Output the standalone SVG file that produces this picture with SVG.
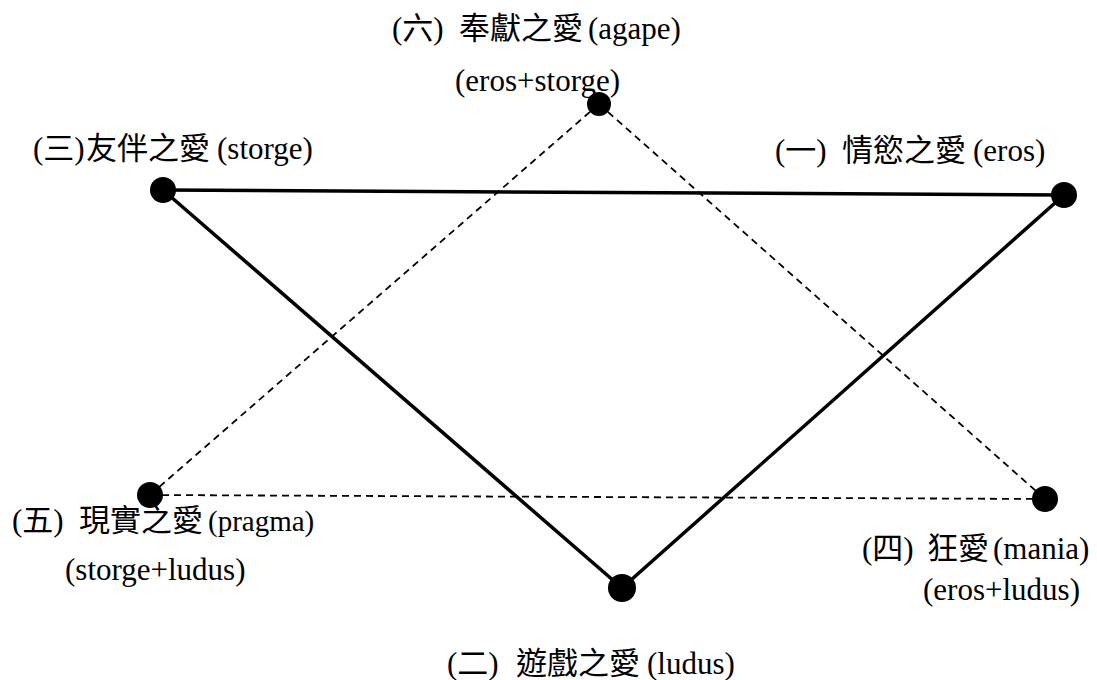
<svg xmlns="http://www.w3.org/2000/svg" width="1097" height="680" viewBox="0 0 1097 680">
<style>
text{font-family:"Liberation Serif","Noto Sans CJK TC","Noto Sans CJK SC",serif;font-size:31px;fill:#000}
.c{font-size:31px}
.s{font-size:29px}
.dot{fill:#000}
.solid{stroke:#000;stroke-width:3.5;fill:none}
.dash{stroke:#000;stroke-width:1.8;stroke-dasharray:7 5;fill:none}
</style>
<rect width="1097" height="680" fill="#fff"/>
<g id="connectors">
<line class="dash" x1="599" y1="104" x2="150" y2="495"/>
<line class="dash" x1="599" y1="104" x2="1045" y2="499"/>
<line class="dash" x1="150" y1="495" x2="1045" y2="499"/>
<line class="solid" x1="163" y1="190" x2="1064" y2="195"/>
<line class="solid" x1="1064" y1="195" x2="622" y2="588"/>
<line class="solid" x1="622" y1="588" x2="163" y2="190"/>
</g>
<g id="agape">
<circle class="dot" cx="599" cy="104" r="12"/>
<text y="39"><tspan x="392">(六)</tspan><tspan class="c" x="459">奉獻之愛</tspan><tspan x="588">(agape)</tspan></text>
<text x="455" y="91">(eros+storge)</text>
</g>
<g id="storge">
<circle class="dot" cx="163" cy="190" r="13"/>
<text y="159"><tspan x="33">(三)</tspan><tspan class="c" x="86">友伴之愛</tspan><tspan x="217">(storge)</tspan></text>
</g>
<g id="eros">
<circle class="dot" cx="1064" cy="195" r="13"/>
<text y="161"><tspan x="775">(一)</tspan><tspan class="c" x="842">情慾之愛</tspan><tspan x="973">(eros)</tspan></text>
</g>
<g id="pragma">
<circle class="dot" cx="150" cy="495" r="13"/>
<text y="531"><tspan x="12">(五)</tspan><tspan class="c" x="79">現實之愛</tspan><tspan class="s" x="208">(pragma)</tspan></text>
<text x="65" y="580">(storge+ludus)</text>
</g>
<g id="mania">
<circle class="dot" cx="1045" cy="499" r="13"/>
<text y="559"><tspan x="862">(四)</tspan><tspan class="c" x="927">狂愛</tspan><tspan x="993">(mania)</tspan></text>
<text x="923" y="600">(eros+ludus)</text>
</g>
<g id="ludus">
<circle class="dot" cx="622" cy="588" r="14"/>
<text y="674"><tspan x="447">(二)</tspan><tspan class="c" x="516">遊戲之愛</tspan><tspan x="647">(ludus)</tspan></text>
</g>
</svg>
